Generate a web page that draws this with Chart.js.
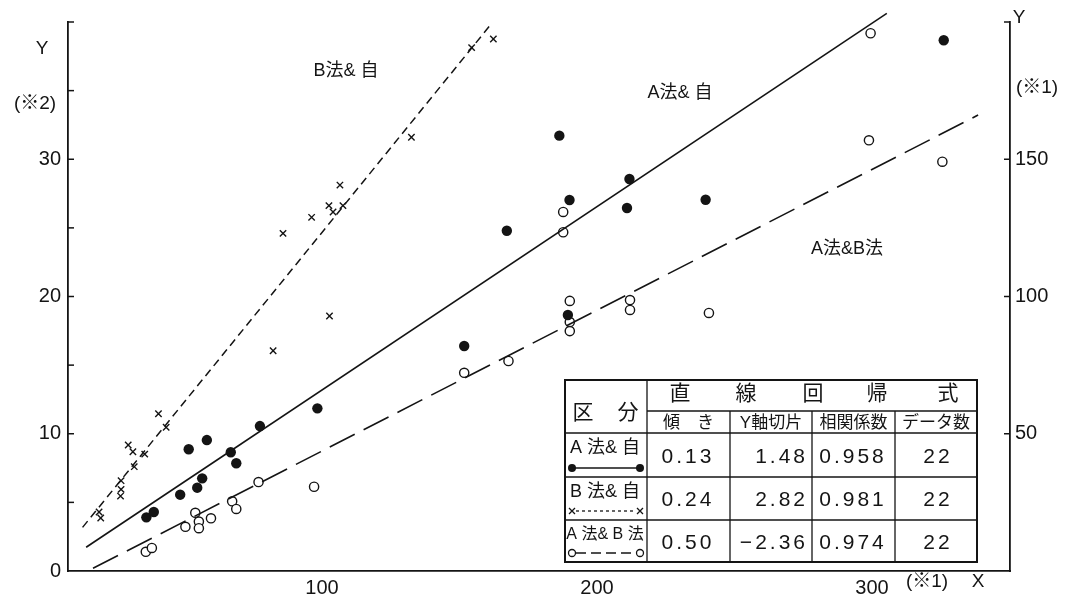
<!DOCTYPE html>
<html>
<head>
<meta charset="utf-8">
<script src="https://cdn.jsdelivr.net/npm/chart.js@4.4.0/dist/chart.umd.min.js"></script>
<style>
html, body { margin: 0; padding: 0; background: #fff; }
#wrap { width: 1076px; height: 599px; position: relative; }
</style>
</head>
<body>
<div id="wrap"><canvas id="c"></canvas></div>
<script>
// A法&自 (●) : X (※1) vs Y (※2, left axis)
const aJiX = [36.1, 38.8, 48.4, 51.5, 54.6, 56.4, 58.1, 66.8, 68.8, 77.4, 98.3, 151.7, 167.2, 186.3, 190.0, 211.8, 210.9, 239.5, 326.1, 189.4];
const aJiY = [3.91, 4.30, 5.56, 8.87, 6.07, 6.75, 9.54, 8.65, 7.85, 10.56, 11.85, 16.39, 24.79, 31.72, 27.03, 28.56, 26.45, 27.05, 38.67, 18.65];

// B法&自 (×) : X (※1) vs Y (※2, left axis)
const bJiX = [18.9, 19.5, 26.9, 26.9, 26.7, 29.5, 31.2, 31.7, 35.5, 40.5, 43.3, 82.2, 102.7, 85.8, 96.2, 102.5, 104.0, 107.6, 106.5, 132.5, 154.4, 162.3];
const bJiY = [4.30, 3.86, 6.58, 5.95, 5.46, 9.18, 8.69, 7.60, 8.52, 11.46, 10.47, 16.05, 18.58, 24.60, 25.77, 26.62, 26.16, 26.62, 28.12, 31.60, 38.13, 38.76];

// A法&B法 (○) : X (※1) vs Y (※1, right axis)
const abX = [35.9, 38.1, 50.3, 53.9, 55.2, 55.2, 59.6, 67.3, 68.8, 76.9, 97.1, 151.7, 167.8, 299.5, 298.9, 325.6, 187.7, 187.7, 190.1, 190.1, 190.1, 212.0, 212.0, 240.7];
const abY = [7.0, 8.4, 16.1, 21.2, 18.0, 15.6, 19.2, 25.4, 22.6, 32.4, 30.7, 72.2, 76.5, 195.9, 156.9, 149.1, 130.8, 123.4, 98.4, 90.7, 87.4, 98.7, 95.1, 94.0];

// regression lines, end points
const aJiLineX = [14.2, 305.4];
const aJiLineY = [1.73, 40.63];
const bJiLineX = [12.9, 161.9];
const bJiLineY = [3.18, 39.95];
const abLineX = [16.7, 338.6];
const abLineY = [0.98, 166.1];

// ticks
const xTicks = [100, 200, 300];
const leftTicks = [5, 10, 15, 20, 25, 30, 35, 40];
const leftLabels = [0, 10, 20, 30];
const rightTicks = [50, 100, 150, 200];
const rightLabels = [50, 100, 150];

// table
const tableHead = ['傾　き', 'Y軸切片', '相関係数', 'データ数'];
const tableNames = ['A 法& 自', 'B 法& 自', 'A 法& B 法'];
const slopes = ['0.13', '0.24', '0.50'];
const intercepts = ['1.48', '2.82', '−2.36'];
const correlations = ['0.958', '0.981', '0.974'];
const counts = ['22', '22', '22'];

const ink = '#141414';
const latin = "'Liberation Sans', 'Noto Sans CJK JP', sans-serif";

function pts(xs, ys) {
  return xs.map((x, i) => ({ x: x, y: ys[i] }));
}

const decor = {
  id: 'decor',
  afterDraw(chart) {
    const ctx = chart.ctx;
    const a = chart.chartArea;
    const yl = chart.scales.y, yr = chart.scales.y1;
    ctx.save();
    ctx.strokeStyle = ink;
    ctx.fillStyle = ink;
    ctx.lineWidth = 1.5;

    // inward tick marks
    leftTicks.forEach(v => {
      const p = yl.getPixelForValue(v);
      ctx.beginPath(); ctx.moveTo(a.left, p); ctx.lineTo(a.left + 6, p); ctx.stroke();
    });
    rightTicks.forEach(v => {
      const p = yr.getPixelForValue(v);
      ctx.beginPath(); ctx.moveTo(a.right - 6, p); ctx.lineTo(a.right, p); ctx.stroke();
    });

    // axis captions
    ctx.textBaseline = 'middle';
    ctx.textAlign = 'center';
    ctx.font = '19px ' + latin;
    ctx.fillText('Y', 42, 49);
    ctx.fillText('(※2)', 35, 104);
    ctx.fillText('Y', 1019, 18);
    ctx.fillText('(※1)', 1037, 88);
    ctx.fillText('(※1)', 927, 582);
    ctx.fillText('X', 978, 582);

    // series captions
    ctx.font = '18px ' + latin;
    ctx.fillText('B法& 自', 346, 71);
    ctx.fillText('A法& 自', 680, 93);
    ctx.fillText('A法&B法', 847, 249);

    drawTable(ctx);
    ctx.restore();
  }
};

function hline(ctx, x1, x2, y) { ctx.beginPath(); ctx.moveTo(x1, y); ctx.lineTo(x2, y); ctx.stroke(); }
function vline(ctx, x, y1, y2) { ctx.beginPath(); ctx.moveTo(x, y1); ctx.lineTo(x, y2); ctx.stroke(); }

function drawTable(ctx) {
  const cx = [565, 647, 730, 812, 895, 977];
  const ry = [380, 411, 433, 477, 520, 562];
  ctx.fillStyle = '#fff';
  ctx.fillRect(cx[0], ry[0], cx[5] - cx[0], ry[5] - ry[0]);
  ctx.fillStyle = ink;
  ctx.strokeStyle = ink;
  ctx.lineWidth = 2;
  ctx.strokeRect(cx[0], ry[0], cx[5] - cx[0], ry[5] - ry[0]);
  ctx.lineWidth = 1.3;
  vline(ctx, cx[1], ry[0], ry[5]);
  for (let i = 2; i < 5; i++) vline(ctx, cx[i], ry[1], ry[5]);
  hline(ctx, cx[1], cx[5], ry[1]);
  for (let j = 2; j < 5; j++) hline(ctx, cx[0], cx[5], ry[j]);

  ctx.textBaseline = 'middle';
  ctx.textAlign = 'center';
  ctx.font = '21px ' + latin;
  ctx.fillText('区', 583, 413);
  ctx.fillText('分', 628, 413);
  const title = ['直', '線', '回', '帰', '式'];
  const tx = [680, 746, 813, 877, 948];
  title.forEach((t, i) => ctx.fillText(t, tx[i], 394));

  ctx.font = '17px ' + latin;
  tableHead.forEach((t, i) => ctx.fillText(t, (cx[i + 1] + cx[i + 2]) / 2, 423));

  for (let r = 0; r < 3; r++) {
    const top = ry[r + 2], bot = ry[r + 3];
    ctx.font = (r === 2 ? '16px ' : '18px ') + latin;
    ctx.textAlign = 'center';
    ctx.fillText(tableNames[r], 605, top + 15);
    // legend sample
    const my = bot - 9;
    ctx.lineWidth = 1.3;
    if (r === 0) {
      hline(ctx, 572, 640, my);
      [572, 640].forEach(x => { ctx.beginPath(); ctx.arc(x, my, 4, 0, Math.PI * 2); ctx.fill(); });
    } else if (r === 1) {
      ctx.setLineDash([3, 3]);
      hline(ctx, 576, 636, my);
      ctx.setLineDash([]);
      [572, 640].forEach(x => {
        ctx.beginPath(); ctx.moveTo(x - 3, my - 3); ctx.lineTo(x + 3, my + 3);
        ctx.moveTo(x - 3, my + 3); ctx.lineTo(x + 3, my - 3); ctx.stroke();
      });
    } else {
      ctx.setLineDash([10, 5]);
      hline(ctx, 576, 636, my);
      ctx.setLineDash([]);
      [572, 640].forEach(x => { ctx.beginPath(); ctx.arc(x, my, 3.5, 0, Math.PI * 2); ctx.stroke(); });
    }
    const vy = (top + bot) / 2 + 2;
    ctx.font = '21px ' + latin;
    ctx.letterSpacing = '3px';
    ctx.textAlign = 'center';
    ctx.fillText(slopes[r], 688, vy);
    ctx.textAlign = 'right';
    ctx.fillText(intercepts[r], 808, vy);
    ctx.textAlign = 'center';
    ctx.fillText(correlations[r], 853, vy);
    ctx.fillText(counts[r], 938, vy);
    ctx.letterSpacing = '0px';
  }
}

const tickFont = { family: latin, size: 20 };

new Chart(document.getElementById('c'), {
  type: 'scatter',
  data: {
    datasets: [
      { data: pts(aJiLineX, aJiLineY), yAxisID: 'y', showLine: true, borderColor: ink, borderWidth: 1.6, pointRadius: 0, clip: false },
      { data: pts(bJiLineX, bJiLineY), yAxisID: 'y', showLine: true, borderColor: ink, borderWidth: 1.5, borderDash: [8, 5], pointRadius: 0, clip: false },
      { data: pts(abLineX, abLineY), yAxisID: 'y1', showLine: true, borderColor: ink, borderWidth: 1.6, borderDash: [28, 10], pointRadius: 0, clip: false },
      { data: pts(aJiX, aJiY), yAxisID: 'y', pointStyle: 'circle', pointRadius: 5.2, backgroundColor: ink, borderColor: ink, borderWidth: 0, clip: false },
      { data: pts(bJiX, bJiY), yAxisID: 'y', pointStyle: 'crossRot', pointRadius: 4.5, borderColor: ink, borderWidth: 1.4, clip: false },
      { data: pts(abX, abY), yAxisID: 'y1', pointStyle: 'circle', pointRadius: 4.6, backgroundColor: '#fff', borderColor: ink, borderWidth: 1.4, clip: false }
    ]
  },
  options: {
    responsive: true,
    maintainAspectRatio: false,
    animation: false,
    events: [],
    layout: { padding: { top: 22, left: 0, right: 0, bottom: 0 } },
    plugins: { legend: { display: false }, tooltip: { enabled: false } },
    scales: {
      x: {
        type: 'linear', position: 'bottom', min: 7.6, max: 350.2,
        afterFit: s => { s.height = 28; },
        afterBuildTicks: s => { s.ticks = xTicks.map(v => ({ value: v })); },
        grid: { display: false, drawTicks: false },
        border: { display: true, color: ink, width: 1.8 },
        ticks: { color: ink, font: tickFont, padding: 5, maxRotation: 0, autoSkip: false }
      },
      y: {
        type: 'linear', position: 'left', min: 0, max: 40,
        afterFit: s => { s.width = 68; },
        afterBuildTicks: s => { s.ticks = leftLabels.map(v => ({ value: v })); },
        grid: { display: false, drawTicks: false },
        border: { display: true, color: ink, width: 1.8 },
        ticks: { color: ink, font: tickFont, padding: 7 }
      },
      y1: {
        type: 'linear', position: 'right', min: 0, max: 200,
        afterFit: s => { s.width = 66; },
        afterBuildTicks: s => { s.ticks = rightLabels.map(v => ({ value: v })); },
        grid: { display: false, drawTicks: false },
        border: { display: true, color: ink, width: 1.8 },
        ticks: { color: ink, font: tickFont, padding: 5 }
      }
    }
  },
  plugins: [decor]
});
</script>
</body>
</html>
